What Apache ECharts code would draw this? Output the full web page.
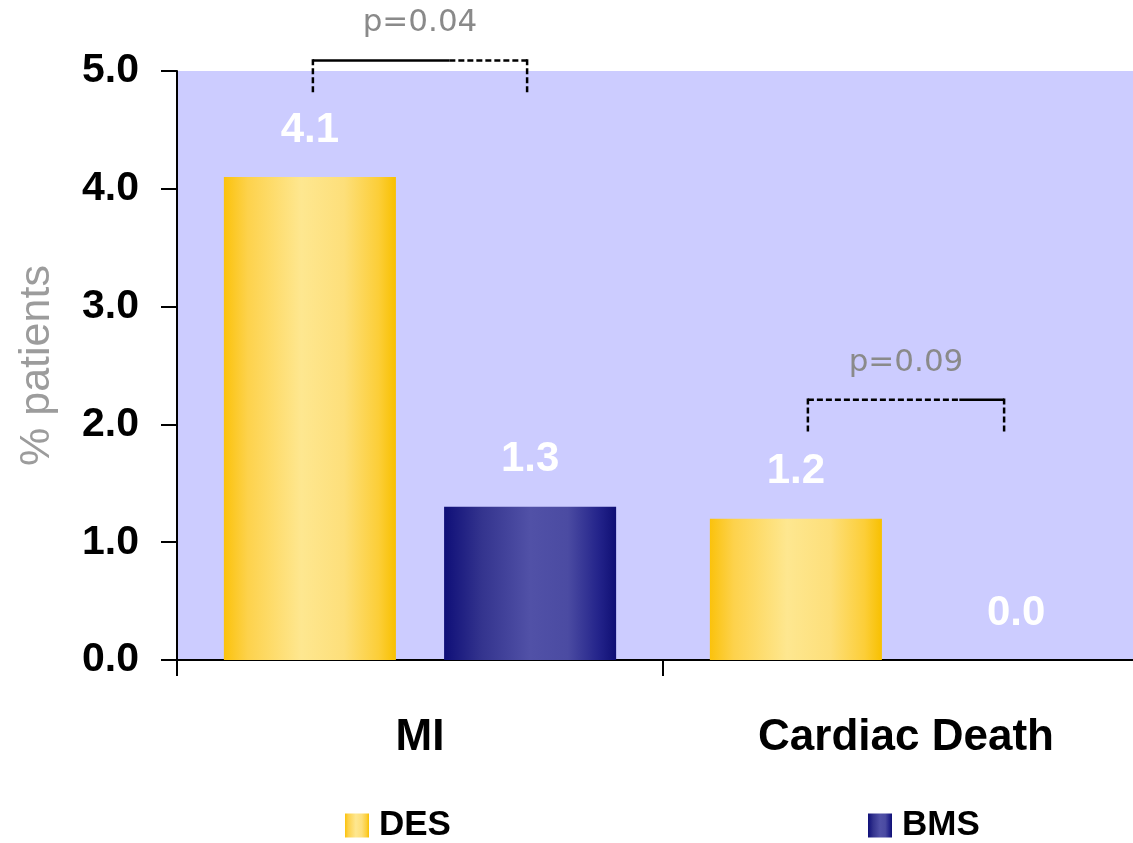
<!DOCTYPE html>
<html>
<head>
<meta charset="utf-8">
<title>MI and Cardiac Death: DES vs BMS</title>
<script src="https://cdn.jsdelivr.net/npm/echarts@6/dist/echarts.min.js"></script>
<style>
  html, body { margin: 0; padding: 0; background: #ffffff; overflow: hidden; }
  /* The plot runs past the right edge of the page, so the second category band is cut off */
  #chart { width: 1149px; height: 843px; }
</style>
</head>
<body>
<div id="chart"></div>
<script>
// Outcome categories and event rates (% patients)
const categories = ['MI', 'Cardiac Death'];
const desValues = [4.1, 1.2];
const bmsValues = [1.3, 0.0];
const seriesNames = ['DES', 'BMS'];
// Significance annotations, one per category
const pValues = ['p=0.04', 'p=0.09'];

// Bracket geometry for the p-value annotations (in axis units, plus pixel insets)
const bracketLayout = [
  { top: 5.09, drop: 4.81, inset: 3, split: 0.637, solidFirst: true },
  { top: 2.21, drop: 1.94, inset: 12, split: 0.772, solidFirst: false }
];

const FONT = '"Liberation Sans", Arial, sans-serif';
const BAR_WIDTH = 0.354;   // fraction of category band
const BAR_GAP = 0.28;      // fraction of bar width

const desGradient = new echarts.graphic.LinearGradient(0, 0, 1, 0, [
  { offset: 0, color: '#FBC20C' },
  { offset: 0.14, color: '#FDD24C' },
  { offset: 0.45, color: '#FEE790' },
  { offset: 0.7, color: '#FDDF7A' },
  { offset: 0.9, color: '#FCCE38' },
  { offset: 1, color: '#F8C000' }
]);
const bmsGradient = new echarts.graphic.LinearGradient(0, 0, 1, 0, [
  { offset: 0, color: '#0F0F78' },
  { offset: 0.22, color: '#34348E' },
  { offset: 0.5, color: '#5151A7' },
  { offset: 0.72, color: '#4B4BA2' },
  { offset: 0.9, color: '#23238A' },
  { offset: 1, color: '#0F0F74' }
]);

const chart = echarts.init(document.getElementById('chart'), null, { renderer: 'canvas' });

function valueLabel() {
  return {
    show: true,
    position: 'top',
    distance: 26,
    color: '#ffffff',
    fontFamily: FONT,
    fontWeight: 'bold',
    fontSize: 42,
    formatter: p => Number(p.value).toFixed(1)
  };
}

function dashedOrSolid(x1, y1, x2, y2, dashed) {
  return {
    type: 'line',
    shape: { x1, y1, x2, y2 },
    style: { stroke: '#000000', lineWidth: 2.5, lineDash: dashed ? [6, 3] : null }
  };
}

function renderBracket(params, api) {
  const i = api.value(0);
  const layout = bracketLayout[params.dataIndex];
  const top = api.coord([i, api.value(1)]);
  const yDrop = api.coord([i, api.value(2)])[1];
  const band = api.size([1, 0])[0];
  const off = band * BAR_WIDTH * (1 + BAR_GAP) / 2;
  const cx = top[0];
  const yTop = top[1];
  const x1 = cx - off + layout.inset;
  const x2 = cx + off - layout.inset;
  const xs = x1 + (x2 - x1) * layout.split;
  return {
    type: 'group',
    children: [
      dashedOrSolid(x1, yTop, xs, yTop, !layout.solidFirst),
      dashedOrSolid(xs, yTop, x2, yTop, layout.solidFirst),
      dashedOrSolid(x1, yTop - 1.2, x1, yDrop, true),
      dashedOrSolid(x2, yTop - 1.2, x2, yDrop, true),
      {
        type: 'text',
        style: {
          text: pValues[params.dataIndex],
          x: (x1 + x2) / 2,
          y: yTop - 37,
          align: 'center',
          verticalAlign: 'middle',
          fill: '#8A8A8A',
          font: '31px "DejaVu Sans", sans-serif'
        }
      }
    ]
  };
}

const legendBase = {
  orient: 'horizontal',
  icon: 'rect',
  itemWidth: 24,
  itemHeight: 24,
  selectedMode: false,
  textStyle: {
    color: '#000000',
    fontFamily: FONT,
    fontWeight: 'bold',
    fontSize: 35,
    padding: [0, 0, 0, 5]
  }
};

chart.setOption({
  backgroundColor: '#ffffff',
  animation: false,
  grid: {
    left: 177,
    top: 71,
    right: 0,
    bottom: 183,
    show: true,
    backgroundColor: '#CCCCFF',
    borderWidth: 0
  },
  legend: [
    Object.assign({}, legendBase, { data: [seriesNames[0]], left: 340, top: 803 }),
    Object.assign({}, legendBase, { data: [seriesNames[1]], left: 863, top: 803 })
  ],
  xAxis: {
    type: 'category',
    data: categories,
    axisLine: { lineStyle: { color: '#000000', width: 2 } },
    axisTick: { show: true, length: 16, lineStyle: { color: '#000000', width: 2 } },
    axisLabel: {
      color: '#000000',
      fontFamily: FONT,
      fontWeight: 'bold',
      fontSize: 44,
      margin: 56
    },
    splitLine: { show: false }
  },
  yAxis: {
    type: 'value',
    min: 0,
    max: 5,
    interval: 1,
    name: '% patients',
    nameLocation: 'middle',
    nameGap: 118,
    nameTextStyle: {
      color: '#9C9C9C',
      fontFamily: FONT,
      fontSize: 43
    },
    axisLine: { show: true, lineStyle: { color: '#000000', width: 2 } },
    axisTick: { show: true, length: 16, lineStyle: { color: '#000000', width: 2 } },
    axisLabel: {
      color: '#000000',
      fontFamily: FONT,
      fontWeight: 'bold',
      fontSize: 41,
      margin: 38,
      formatter: v => v.toFixed(1)
    },
    splitLine: { show: false }
  },
  series: [
    {
      name: seriesNames[0],
      type: 'bar',
      data: desValues,
      barWidth: (BAR_WIDTH * 100) + '%',
      barGap: (BAR_GAP * 100) + '%',
      itemStyle: { color: desGradient },
      label: valueLabel()
    },
    {
      name: seriesNames[1],
      type: 'bar',
      data: bmsValues,
      barWidth: (BAR_WIDTH * 100) + '%',
      barGap: (BAR_GAP * 100) + '%',
      itemStyle: { color: bmsGradient },
      label: valueLabel()
    },
    {
      name: 'p-values',
      type: 'custom',
      clip: false,
      silent: true,
      z: 10,
      renderItem: renderBracket,
      encode: { x: 0, y: 1 },
      data: bracketLayout.map((b, i) => [i, b.top, b.drop])
    }
  ]
});
</script>
</body>
</html>
